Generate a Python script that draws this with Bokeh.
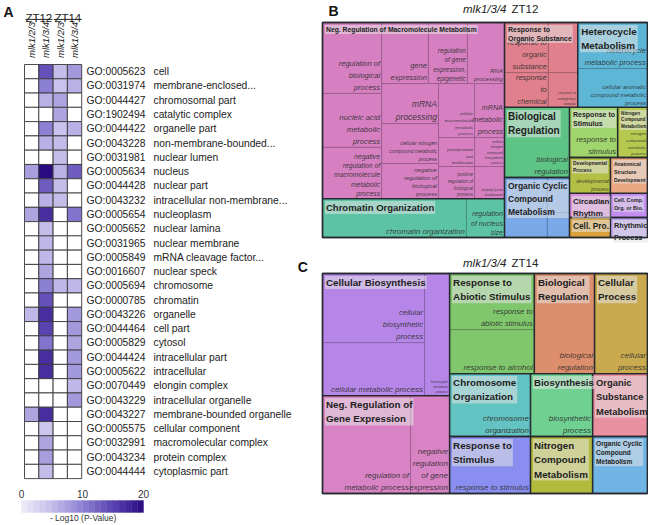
import numpy as np
from bokeh.plotting import figure
from bokeh.layouts import row, column
from bokeh.models import Range1d, ColumnDataSource, LinearColorMapper
from bokeh.core.properties import value
from bokeh.embed import file_html
from bokeh.resources import INLINE

FONT = "Liberation Sans"

# ---------------- Panel A data ----------------
go_ids = ["GO:0005623", "GO:0031974", "GO:0044427", "GO:1902494", "GO:0044422",
          "GO:0043228", "GO:0031981", "GO:0005634", "GO:0044428", "GO:0043232",
          "GO:0005654", "GO:0005652", "GO:0031965", "GO:0005849", "GO:0016607",
          "GO:0005694", "GO:0000785", "GO:0043226", "GO:0044464", "GO:0005829",
          "GO:0044424", "GO:0005622", "GO:0070449", "GO:0043229", "GO:0043227",
          "GO:0005575", "GO:0032991", "GO:0043234", "GO:0044444"]
go_terms = ["cell", "membrane-enclosed...", "chromosomal part", "catalytic complex",
            "organelle part", "non-membrane-bounded...", "nuclear lumen", "nucleus",
            "nuclear part", "intracellular non-membrane...", "nucleoplasm",
            "nuclear lamina", "nuclear membrane", "mRNA cleavage factor...",
            "nuclear speck", "chromosome", "chromatin", "organelle", "cell part",
            "cytosol", "intracellular part", "intracellular", "elongin complex",
            "intracellular organelle", "membrane-bounded organelle",
            "cellular component", "macromolecular complex", "protein complex",
            "cytoplasmic part"]
genotypes = ["mlk1/2/3", "mlk1/3/4", "mlk1/2/3", "mlk1/3/4"]
timepoints = ["ZT12", "ZT14"]
# -log10(P) per column; None = not enriched (white)
zt12_mlk123 = [None, None, None, None, None, None, None, 7.5, None, None, 7, None, None, None,
               None, None, None, 5.5, None, None, None, None, None, None, 7, None, None, None, None]
zt12_mlk134 = [14, 10, 6, None, 10, 6, None, 20, 13, 6, 17, 5, 5.5, 5.5,
               7, 10, 14, 17, 15, 11, 17, 17, None, None, 17, 4, 7, 7.5, 5]
zt14_mlk123 = [5, 4.5, 7, 7, 4.5, 5, 5, 6, 5, 5, None, None, None, None,
               None, 5.5, None, None, None, None, None, None, None, None, None, None, None, None, None]
zt14_mlk134 = [8, 6, None, None, 6, None, None, 13, None, None, 11, None, None, None,
               None, 5.5, None, 8, 8, 7, 8, 8, 5.5, 8, None, None, None, None, None]
cbar_ticks = [0, 10, 20]
cbar_title = "- Log10 (P-Value)"

# ---------------- Panel B data (treemap, mlk1/3/4 ZT12) ----------------
B_group_labels = ["Neg. Regulation of Macromolecule Metabolism", "Chromatin Organization",
                  "Response to\nOrganic Substance", "Heterocycle\nMetabolism",
                  "Biological\nRegulation", "Organic Cyclic\nCompound\nMetabolism",
                  "Response to\nStimulus", "Nitrogen\nCompound\nMetabolism",
                  "Developmental\nProcess", "Anatomical\nStructure\nDevelopment",
                  "Circadian\nRhythm", "Cell. Comp.\nOrg. or Bio.", "Cell. Pro.",
                  "Rhythmic\nProcess"]
B_group_colors = ["#d680c2", "#5cc4a4", "#e0808c", "#5eb6d6", "#5ec486", "#79a9e9",
                  "#a0d46c", "#b5c94e", "#b3c045", "#e9a882", "#d98fd8", "#c38ef0",
                  "#d9a23c", "#b9a3ec"]
# layout of the treemap tiles (percent of the treemap box)
B_group_x0 = [0, 0, 56, 78.5, 56, 56, 76, 90.8, 76, 88.6, 76, 88.6, 76, 88.6]
B_group_x1 = [56, 56, 78.5, 100, 76, 76, 90.8, 100, 88.6, 100, 88.6, 100, 88.6, 100]
B_group_y0 = [0, 81.9, 0, 0, 39.5, 72.1, 39.5, 39.5, 62.8, 62.8, 79.5, 79.5, 90.7, 90.7]
B_group_y1 = [81.9, 100, 39.5, 39.5, 72.1, 100, 62.8, 62.8, 79.5, 79.5, 90.7, 90.7, 100, 100]
B_group_fs = [6.8, 9.5, 7.0, 9.8, 10, 8.5, 7.0, 4.6, 4.8, 5.0, 8.0, 5.3, 8.3, 7.3]

B_term_labels = ["regulation of\nbiological\nprocess", "nucleic acid\nmetabolic\nprocess",
                 "negative\nregulation of\nmacromolecule\nmetabolic\nprocess",
                 "gene\nexpression", "regulation\nof gene\nexpression,\nepigenetic",
                 "RNA\nprocessing", "mRNA\nprocessing",
                 "cellular\nmacromolecule\nmetabolic\nprocess", "mRNA\nmetabolic\nprocess",
                 "cellular nitrogen\ncompound metabolic\nprocess",
                 "negative\nregulation of\nbiological\nprocess",
                 "peptidyl-amino\nacid\nmodification",
                 "cellular\nnitrogen\ncompound\nbiosynthetic\nprocess",
                 "positive\nregulation of\nbiological\nprocess",
                 "peptidyl-lysine\nmodification",
                 "chromatin organization", "regulation\nof nucleus\nsize",
                 "response to\norganic\nsubstance", "", "response\nto\nchemical",
                 "response to\nendogenous\nstimulus",
                 "heterocycle\nmetabolic process",
                 "cellular aromatic\ncompound metabolic\nprocess",
                 "biological\nregulation", "", "", "",
                 "response to\nstimulus", "nitrogen\ncompound\nmetabolic\nprocess",
                 "developmental\nprocess", "", "", "", "", ""]
B_term_group = [0, 0, 0, 0, 0, 0, 0, 0, 0, 0, 0, 0, 0, 0, 0, 1, 1, 2, 2, 2, 2, 3, 3, 4,
                5, 5, 5, 6, 7, 8, 9, 10, 11, 12, 13]
B_term_x0 = [0, 0, 0, 18.2, 32.6, 44.6, 18.2, 35.7, 46.8, 18.2, 18.2, 35.7, 46.8, 35.7, 46.8,
             0, 44.3, 56, 69.5, 56, 69.5, 78.5, 78.5, 56, 56, 69.2, 69.2,
             76, 90.8, 76, 88.6, 76, 88.6, 76, 88.6]
B_term_x1 = [18.2, 18.2, 18.2, 32.6, 44.6, 56, 35.7, 46.8, 56, 35.7, 35.7, 46.8, 56, 46.8, 56,
             44.3, 56, 69.5, 78.5, 69.5, 78.5, 100, 100, 76, 69.2, 76, 76,
             90.8, 100, 88.6, 100, 88.6, 100, 88.6, 100]
B_term_y0 = [0, 33, 58.1, 0, 0, 0, 28.4, 28.4, 28.4, 47, 65.6, 53.5, 53.5, 67, 67,
             81.9, 81.9, 0, 0, 23.3, 23.3, 0, 21.4, 39.5, 72.1, 72.1, 88.4,
             39.5, 39.5, 62.8, 62.8, 79.5, 79.5, 90.7, 90.7]
B_term_y1 = [33, 58.1, 81.9, 28.4, 28.4, 28.4, 47, 53.5, 53.5, 65.6, 81.9, 67, 67, 81.9, 81.9,
             100, 100, 23.3, 23.3, 39.5, 39.5, 21.4, 39.5, 72.1, 100, 88.4, 100,
             62.8, 62.8, 79.5, 79.5, 90.7, 90.7, 100, 100]
B_term_fs = [7.5, 7.8, 6.8, 7.5, 6.4, 6.0, 8.5, 4.2, 7.2, 5.2, 6.0, 4.0, 3.4, 4.6, 3.4,
             7.8, 7.0, 7.5, 5, 7.5, 3.4, 7.6, 6.0, 7.6, 5, 3, 3,
             7.6, 4.2, 5.0, 5, 5, 5, 5, 5]

# ---------------- Panel C data (treemap, mlk1/3/4 ZT14) ----------------
C_group_labels = ["Cellular Biosynthesis", "Neg. Regulation of\nGene Expression",
                  "Response to\nAbiotic Stimulus", "Biological\nRegulation",
                  "Cellular\nProcess", "Chromosome\nOrganization", "Biosynthesis",
                  "Organic\nSubstance\nMetabolism", "Response to\nStimulus",
                  "Nitrogen\nCompound\nMetabolism", "Organic Cyclic\nCompound\nMetabolism"]
C_group_colors = ["#b685e8", "#d883c4", "#7fc66c", "#dd8e6c", "#c9aa4e", "#63c2c2",
                  "#6fd092", "#e88fa0", "#8a8ef0", "#b3bb3d", "#70b4e6"]
C_group_x0 = [0, 0, 39.1, 65.2, 83.7, 39.1, 64, 83.1, 39.1, 64, 83.1]
C_group_x1 = [39.1, 39.1, 65.2, 83.7, 100, 64, 83.1, 100, 64, 83.1, 100]
C_group_y0 = [0, 55.5, 0, 0, 0, 45.5, 45.5, 45.5, 74.1, 74.1, 74.1]
C_group_y1 = [55.5, 100, 45.5, 45.5, 45.5, 74.1, 74.1, 74.1, 100, 100, 100]
C_group_fs = [9.8, 9.8, 9.8, 9.8, 9.8, 9.8, 9.6, 9.4, 9.8, 9.8, 6.6]

C_term_labels = ["cellular\nbiosynthetic\nprocess", "cellular metabolic process",
                 "heterocycle\nmetabolic\nprocess", "regulation of\nmetabolic process",
                 "negative\nregulation\nof gene\nexpression",
                 "response to\nabiotic stimulus", "response to alcohol",
                 "biological\nregulation", "cellular\nprocess",
                 "chromosome\norganization", "biosynthetic\nprocess", "",
                 "response to stimulus", "", ""]
C_term_group = [0, 0, 0, 1, 1, 2, 2, 3, 4, 5, 6, 7, 8, 9, 10]
C_term_x0 = [0, 0, 31.4, 0, 27.1, 39.1, 39.1, 65.2, 83.7, 39.1, 64, 83.1, 39.1, 64, 83.1]
C_term_x1 = [31.4, 31.4, 39.1, 27.1, 39.1, 65.2, 65.2, 83.7, 100, 64, 83.1, 100, 64, 83.1, 100]
C_term_y0 = [0, 31.4, 0, 55.5, 55.5, 0, 25.5, 0, 0, 45.5, 45.5, 45.5, 74.1, 74.1, 74.1]
C_term_y1 = [31.4, 55.5, 55.5, 100, 100, 25.5, 45.5, 45.5, 45.5, 74.1, 74.1, 74.1, 100, 100, 100]
C_term_fs = [7.6, 8.0, 3.4, 8.0, 8.0, 7.6, 8.0, 8.0, 8.0, 8.0, 8.0, 5, 8.0, 5, 5]


# ---------------- helpers ----------------
def hex_rgb(h):
    return int(h[1:3], 16), int(h[3:5], 16), int(h[5:7], 16)


def darker(h, f=0.72):
    r, g, b = hex_rgb(h)
    return "#%02x%02x%02x" % (int(r * f), int(g * f), int(b * f))


anchors = [(0.0, "#efedf9"), (0.25, "#c4bdea"), (0.5, "#8c80d2"), (0.75, "#5a44b2"), (1.0, "#2a0a80")]
palette = []
for k in range(256):
    t = k / 255
    for (t0, c0), (t1, c1) in zip(anchors[:-1], anchors[1:]):
        if t0 <= t <= t1:
            a = (t - t0) / (t1 - t0)
            r0, g0, b0 = hex_rgb(c0)
            r1, g1, b1 = hex_rgb(c1)
            palette.append("#%02x%02x%02x" % (round(r0 + (r1 - r0) * a), round(g0 + (g1 - g0) * a),
                                              round(b0 + (b1 - b0) * a)))
            break
mapper = LinearColorMapper(palette=palette, low=cbar_ticks[0], high=cbar_ticks[-1], nan_color="white")


def base_fig(w, h, xr, yr):
    p = figure(width=w, height=h, x_range=xr, y_range=yr, output_backend="svg",
               toolbar_location=None, x_axis_location=None, y_axis_location=None,
               min_border=0, outline_line_color=None, background_fill_color="white",
               border_fill_color="white")
    p.grid.visible = False
    return p


# ---------------- Panel A figure ----------------
CW, RH = 14.3, 14.28          # column width / row height in screen px
X0, Y0 = 24, 64               # heatmap top-left corner on the page
AW, AH = 320, 523
pA = base_fig(AW, AH, Range1d(-X0 / CW, (AW - X0) / CW), Range1d((AH - Y0) / RH, -Y0 / RH))

series = [zt12_mlk123, zt12_mlk134, zt14_mlk123, zt14_mlk134]
cx, cy, cv = [], [], []
for j, s in enumerate(series):
    for i, v in enumerate(s):
        cx.append(j + 0.5)
        cy.append(i + 0.5)
        cv.append(np.nan if v is None else float(v))
cell_src = ColumnDataSource(dict(x=cx, y=cy, v=np.array(cv, dtype=float)))
pA.rect("x", "y", 1, 1, source=cell_src, fill_color={"field": "v", "transform": mapper},
        line_color="#3a3a3a", line_width=0.9)

rows_y = [i + 0.5 for i in range(len(go_ids))]
pA.text(x=[4.34] * len(go_ids), y=rows_y, text=go_ids, text_font=value(FONT),
        text_font_size="10.3px", text_baseline="middle", text_align="left", text_color="#222222")
pA.text(x=[9.02] * len(go_terms), y=rows_y, text=go_terms, text_font=value(FONT),
        text_font_size="10.3px", text_baseline="middle", text_align="left", text_color="#222222")

# column headers (rotated, centred on their span)
pA.text(x=[j + 0.5 for j in range(4)], y=[-1.72] * 4, text=genotypes, angle=np.pi / 2,
        text_font=value(FONT), text_font_style="italic", text_font_size="9.6px",
        text_align="center", text_baseline="middle", text_color="#222222")
pA.text(x=[1.0, 3.03], y=[-3.25, -3.25], text=timepoints, text_font=value(FONT),
        text_font_size="11.5px", text_align="center", text_baseline="alphabetic",
        text_color="#222222")
pA.segment(x0=[0.07, 2.05], x1=[1.95, 4.0], y0=[-3.16, -3.16], y1=[-3.16, -3.16],
           line_color="#222222", line_width=1)

# panel letters
pA.text(x=[-1.47], y=[-3.68], text=["A"], text_font=value(FONT), text_font_style="bold",
        text_font_size="14px", text_baseline="middle", text_color="#111111")
pA.text(x=[19.1], y=[14.15], text=["C"], text_font=value(FONT), text_font_style="bold",
        text_font_size="14px", text_baseline="middle", text_color="#111111")

# colour bar (stepped)
CBPX, CB0 = 6.1, 21
pA.extra_x_ranges = {"cb": Range1d(-CB0 / CBPX, (AW - CB0) / CBPX)}
lv = np.arange(cbar_ticks[0], cbar_ticks[-1]) + 0.5
cb_src = ColumnDataSource(dict(x=lv, v=lv))
pA.rect("x", 30.95, 1.0, 0.84, source=cb_src, x_range_name="cb",
        fill_color={"field": "v", "transform": mapper},
        line_color={"field": "v", "transform": mapper}, line_width=0.4)
pA.text(x=cbar_ticks, y=[30.11] * 3, text=[str(t) for t in cbar_ticks], x_range_name="cb",
        text_font=value(FONT), text_font_size="10px", text_align="center",
        text_baseline="middle", text_color="#333333")
pA.text(x=[10.1], y=[31.79], text=[cbar_title], x_range_name="cb", text_font=value(FONT),
        text_font_size="8.5px", text_align="center", text_baseline="middle", text_color="#333333")


# ---------------- treemap builder ----------------
def treemap(p, sx, sy, g_lab, g_col, gx0, gx1, gy0, gy1, g_fs,
            t_lab, t_grp, tx0, tx1, ty0, ty1, t_fs):
    tcol = [g_col[g] for g in t_grp]
    p.quad(left=tx0, right=tx1, top=ty0, bottom=ty1, fill_color=tcol,
           line_color=[darker(c, 0.7) for c in tcol], line_width=0.8)
    p.quad(left=gx0, right=gx1, top=gy0, bottom=gy1, fill_color=None,
           line_color="#262a2e", line_width=1.3)
    tsrc = ColumnDataSource(dict(x=[v - 1.6 / sx for v in tx1], y=[v - 1.2 / sy for v in ty1],
                                 text=t_lab, fs=["%.1fpx" % f for f in t_fs]))
    p.text("x", "y", text="text", source=tsrc, text_font=value(FONT), text_font_style="italic",
           text_font_size="fs", text_align="right", text_baseline="bottom",
           text_color="#2e2e2e", text_alpha=0.92, text_line_height=1.35)
    gsrc = ColumnDataSource(dict(x=[v + 2.5 / sx for v in gx0], y=[v + 2.5 / sy for v in gy0],
                                 text=g_lab, fs=["%.1fpx" % f for f in g_fs]))
    p.text("x", "y", text="text", source=gsrc, text_font=value(FONT), text_font_style="bold",
           text_font_size="fs", text_align="left", text_baseline="top",
           text_color="#1e1e1e", text_line_height=1.3,
           background_fill_color="#e4e4e4", background_fill_alpha=0.55, padding=1)


# treemap boxes: x 322..647 on the page, B y 22..237, C y 273..493
TX0, TX1 = 322, 647
BW, BH = 328, 250
BSX, BSY = (TX1 - TX0) / 100, 2.15
pB = base_fig(BW, BH, Range1d(-(TX0 - AW) / BSX, (AW + BW - TX0) / BSX),
              Range1d((BH - 22) / BSY, -22 / BSY))
treemap(pB, BSX, BSY, B_group_labels, B_group_colors, B_group_x0, B_group_x1, B_group_y0,
        B_group_y1, B_group_fs, B_term_labels, B_term_group, B_term_x0, B_term_x1, B_term_y0,
        B_term_y1, B_term_fs)
pB.quad(left=[0], right=[100], top=[0], bottom=[100], fill_color=None, line_color="#262a2e",
        line_width=1.5)
pB.text(x=[(328 - TX0) / BSX], y=[(10 - 22) / BSY], text=["B"], text_font=value(FONT),
        text_font_style="bold", text_font_size="14px", text_baseline="middle", text_color="#111111")
pB.text(x=[(506 - TX0) / BSX], y=[(8 - 22) / BSY], text=["mlk1/3/4"], text_font=value(FONT),
        text_font_style="italic", text_font_size="11.5px", text_align="right",
        text_baseline="middle", text_color="#222222")
pB.text(x=[(511 - TX0) / BSX], y=[(8 - 22) / BSY], text=["ZT12"], text_font=value(FONT),
        text_font_size="11.5px", text_align="left", text_baseline="middle", text_color="#222222")

CH = AH - BH
CSX, CSY = (TX1 - TX0) / 100, 2.2
CT = 273 - BH
pC = base_fig(BW, CH, Range1d(-(TX0 - AW) / CSX, (AW + BW - TX0) / CSX),
              Range1d((CH - CT) / CSY, -CT / CSY))
treemap(pC, CSX, CSY, C_group_labels, C_group_colors, C_group_x0, C_group_x1, C_group_y0,
        C_group_y1, C_group_fs, C_term_labels, C_term_group, C_term_x0, C_term_x1, C_term_y0,
        C_term_y1, C_term_fs)
pC.quad(left=[0], right=[100], top=[0], bottom=[100], fill_color=None, line_color="#262a2e",
        line_width=1.5)
pC.text(x=[(506 - TX0) / CSX], y=[(262 - 273) / CSY], text=["mlk1/3/4"], text_font=value(FONT),
        text_font_style="italic", text_font_size="11.5px", text_align="right",
        text_baseline="middle", text_color="#222222")
pC.text(x=[(511 - TX0) / CSX], y=[(262 - 273) / CSY], text=["ZT14"], text_font=value(FONT),
        text_font_size="11.5px", text_align="left", text_baseline="middle", text_color="#222222")

layout = row(pA, column(pB, pC, spacing=0), spacing=0)
open("out.html", "w").write(file_html(layout, INLINE))
